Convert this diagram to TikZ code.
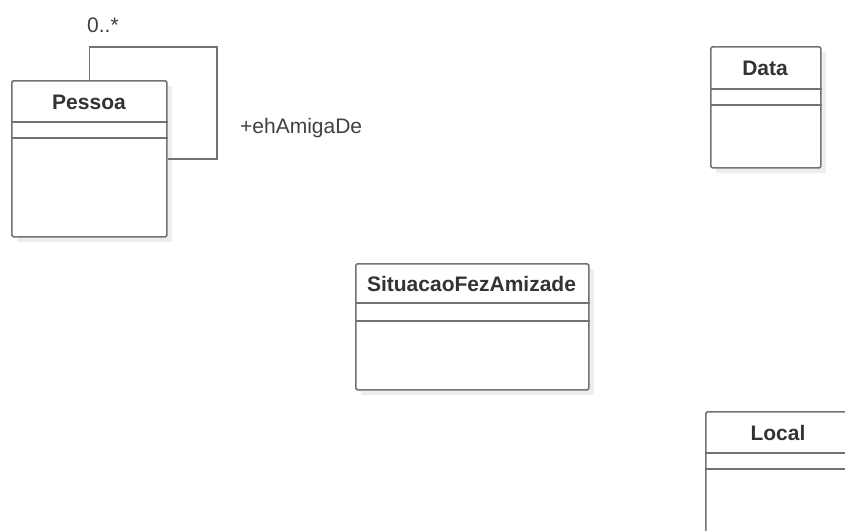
\documentclass[tikz,border=0pt]{standalone}
\usepackage{fontspec}
\setmainfont{Liberation Sans}
\begin{document}
\begin{tikzpicture}[x=1pt,y=-1pt,
  line col/.style={draw=black!55, line width=1.7pt},
  classbox/.style={line col, fill=white, rounded corners=1.5pt, anchor=north west, inner sep=0pt},
  shadowbox/.style={fill=black!7, draw=none, anchor=north west, inner sep=0pt},
  title/.style={font=\fontsize{21}{23}\selectfont\bfseries, text=black!80, inner sep=0pt},
  lbl/.style={font=\fontsize{21}{23}\selectfont, text=black!75, inner sep=0pt}]
\clip (0,0) rectangle (845,530);
\useasboundingbox (0,0) rectangle (845,530);
% shadows
\node[shadowbox, minimum width=155pt, minimum height=156pt] (pessoaS) at (17,86) {};
\node[shadowbox, minimum width=110pt, minimum height=121pt] (dataS) at (716,52) {};
\node[shadowbox, minimum width=233pt, minimum height=126pt] (sitS) at (361,269) {};
\node[shadowbox, minimum width=146pt, minimum height=140pt] (localS) at (711,417) {};
% classes
\node[classbox, minimum width=155pt, minimum height=156pt] (pessoa) at (11,80) {};
\node[classbox, minimum width=110pt, minimum height=121pt] (data) at (710,46) {};
\node[classbox, minimum width=233pt, minimum height=126pt] (sit) at (355,263) {};
\node[classbox, minimum width=146pt, minimum height=140pt] (local) at (705,411) {};
% titles
\node[title] (pessoaT) at (89,102) {Pessoa};
\node[title] (dataT) at (765,68) {Data};
\node[title] (sitT) at (471.5,284) {SituacaoFezAmizade};
\node[title] (localT) at (778,433) {Local};
% compartments
\draw[line col] ([yshift=-42pt]pessoa.north west) -- ([yshift=-42pt]pessoa.north east);
\draw[line col] ([yshift=-58pt]pessoa.north west) -- ([yshift=-58pt]pessoa.north east);
\draw[line col] ([yshift=-43pt]data.north west) -- ([yshift=-43pt]data.north east);
\draw[line col] ([yshift=-59pt]data.north west) -- ([yshift=-59pt]data.north east);
\draw[line col] ([yshift=-40pt]sit.north west) -- ([yshift=-40pt]sit.north east);
\draw[line col] ([yshift=-58pt]sit.north west) -- ([yshift=-58pt]sit.north east);
\draw[line col] ([yshift=-42pt]local.north west) -- ([yshift=-42pt]local.north east);
\draw[line col] ([yshift=-58pt]local.north west) -- ([yshift=-58pt]local.north east);
% self association
\coordinate (loopc) at (217,47);
\draw[line col] (pessoa.north) |- (loopc) |- (pessoa.east);
\node[lbl, anchor=west] (mult) at (87,25) {0..*};
\node[lbl, anchor=west] (role) at (240,128) {+ehAmigaDe};
\end{tikzpicture}
\end{document}
